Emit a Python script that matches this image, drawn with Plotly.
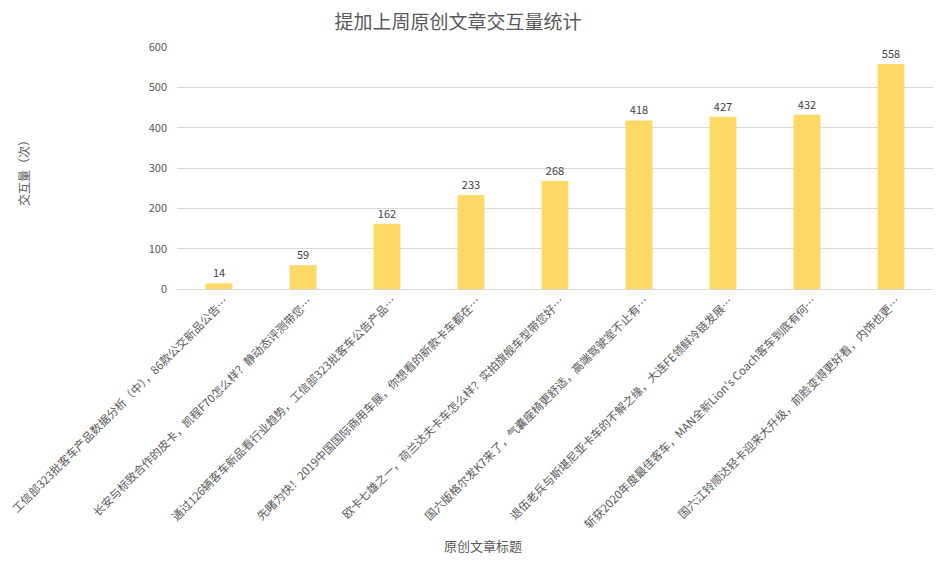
import plotly.graph_objects as go

categories = [
    "工信部323批客车产品数据分析（中），86款公交新品公告…",
    "长安与标致合作的皮卡，凯程F70怎么样？静动态评测带您…",
    "通过126辆客车新品看行业趋势，工信部323批客车公告产品…",
    "先睹为快！2019中国国际商用车展，你想看的新款卡车都在…",
    "欧卡七雄之一，荷兰达夫卡车怎么样？实拍旗舰车型带您好…",
    "国六版格尔发K7来了，气囊座椅更舒适，高端驾驶室不止有…",
    "退伍老兵与斯堪尼亚卡车的不解之缘，大连FE领鲜冷链发展…",
    "斩获2020年度最佳客车，MAN全新Lion's Coach客车到底有何…",
    "国六江铃顺达轻卡迎来大升级，前脸变得更好看，内饰也更…",
]
values = [14, 59, 162, 233, 268, 418, 427, 432, 558]
y_ticks = [0, 100, 200, 300, 400, 500, 600]

FONT = "Noto Sans CJK SC, Microsoft YaHei, sans-serif"

L, T, PW, PH = 169, 39, 756, 242

fig = go.Figure(go.Bar(
    x=categories, y=values,
    marker=dict(color="#FFD966", line=dict(width=0)),
    text=values, textposition="outside", cliponaxis=False,
    textfont=dict(size=11, color="#404040", family=FONT),
))

# rotated category labels placed at each category position
for c in categories:
    fig.add_annotation(
        x=c, y=0, xref="x", yref="y", text=c, showarrow=False,
        textangle=-45, xanchor="right", yanchor="top",
        xshift=15, yshift=-1,
        font=dict(size=11.4, color="#595959", family=FONT),
    )

fig.add_annotation(text="交互量（次）", xref="paper", yref="paper",
                   x=(15 - L) / PW, y=(T + PH - 162) / PH, showarrow=False,
                   textangle=-90, xanchor="center", yanchor="middle",
                   font=dict(size=12, color="#595959", family=FONT))
fig.add_annotation(text="原创文章标题", xref="paper", yref="paper",
                   x=(475 - L) / PW, y=-(537 - T - PH) / PH, showarrow=False,
                   xanchor="center", yanchor="middle",
                   font=dict(size=13, color="#595959", family=FONT))

fig.update_layout(
    width=948, height=567,
    margin=dict(l=L, r=948 - L - PW, t=T, b=567 - T - PH),
    paper_bgcolor="white", plot_bgcolor="white",
    bargap=0.68,
    showlegend=False,
    font=dict(family=FONT, color="#595959"),
    title=dict(text="提加上周原创文章交互量统计", x=450 / 948, xanchor="center",
               y=1 - 14 / 567, yanchor="middle",
               font=dict(size=19, color="#595959", family=FONT)),
    xaxis=dict(showticklabels=False, range=[-0.5, len(categories) - 0.5],
               autorange=False,
               showgrid=False, showline=True, linecolor="#D9D9D9",
               ticks="", automargin=False),
    yaxis=dict(range=[0, 600], autorange=False, tickvals=y_ticks, showgrid=True,
               gridcolor="#D9D9D9", zeroline=False, showline=False,
               tickfont=dict(size=11, color="#595959"), ticks="",
               ticklabelstandoff=9, automargin=False),
)

fig.write_html("out.html")
